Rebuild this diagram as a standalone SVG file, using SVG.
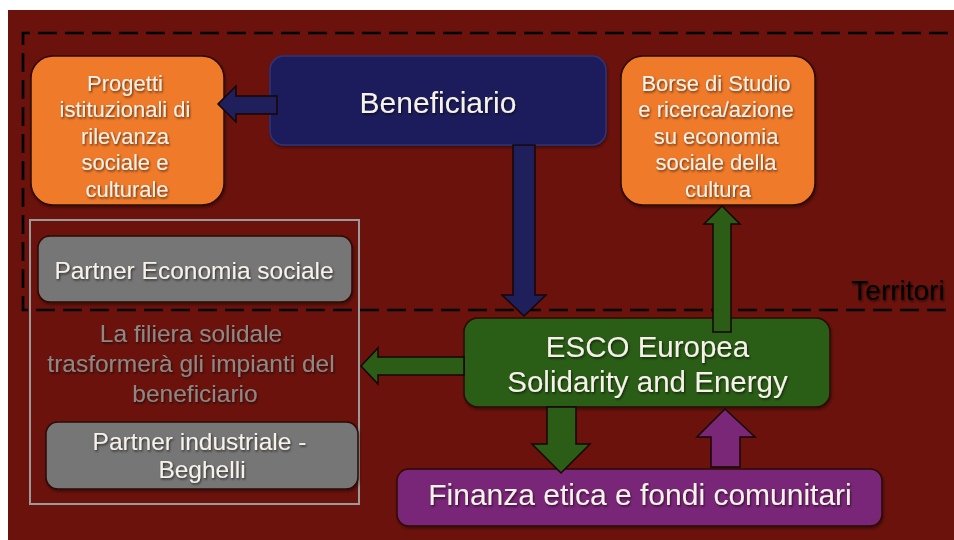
<svg xmlns="http://www.w3.org/2000/svg" width="954" height="540" viewBox="0 0 954 540">
  <defs>
    <filter id="ts" x="-10%" y="-30%" width="120%" height="160%">
      <feDropShadow dx="1" dy="1.5" stdDeviation="1" flood-color="#000" flood-opacity="0.6"/>
    </filter>
    <filter id="bs" x="-5%" y="-10%" width="110%" height="120%">
      <feDropShadow dx="1" dy="2" stdDeviation="1.5" flood-color="#000" flood-opacity="0.4"/>
    </filter>
  </defs>
  <style>
    text { font-family: "Liberation Sans", Arial, sans-serif; text-anchor: middle; }
    .lt { fill: #f6f1e9; filter: url(#ts); }
    .box { stroke: #2a0a06; stroke-width: 1.5; filter: url(#bs); }
    .orange { fill: #ef7a2a; }
    .gray { fill: #767676; }
    .arrow { stroke: #140606; stroke-width: 1.5; stroke-linejoin: miter; }
  </style>

  <rect x="0" y="0" width="954" height="540" fill="#ffffff"/>
  <rect x="8" y="10" width="946" height="530" fill="#6b120c"/>

  <g id="territori">
    <path d="M948 33 H23 V310 H948" fill="none" stroke="#000" stroke-width="2.7" stroke-dasharray="19 8"/>
    <text x="898" y="300" font-size="28" fill="#000" style="filter:url(#ts)">Territori</text>
  </g>

  <g id="filiera">
    <rect x="30" y="220" width="329" height="284" fill="none" stroke="#9a9a9a" stroke-width="2"/>
    <text x="191" y="342" font-size="24.5" fill="#8e8783" style="filter:url(#ts)">La filiera solidale</text>
    <text x="191" y="372" font-size="24.5" fill="#8e8783" style="filter:url(#ts)">trasformerà gli impianti del</text>
    <text x="195" y="402" font-size="24.5" fill="#8e8783" style="filter:url(#ts)">beneficiario</text>
  </g>

  <g id="progetti">
    <rect class="box orange" x="31" y="56" width="193" height="149" rx="22"/>
    <text class="lt" x="125" y="91" font-size="22">Progetti</text>
    <text class="lt" x="125" y="117" font-size="22">istituzionali di</text>
    <text class="lt" x="125" y="144" font-size="22">rilevanza</text>
    <text class="lt" x="125" y="170" font-size="22">sociale e</text>
    <text class="lt" x="127" y="197" font-size="22">culturale</text>
  </g>

  <g id="beneficiario">
    <rect x="270" y="56" width="336" height="89" rx="14" fill="#1f1f5b" stroke="#2e3378" stroke-width="1.5" style="filter:url(#bs)"/>
    <text class="lt" x="438" y="113" font-size="30">Beneficiario</text>
  </g>

  <g id="borse">
    <rect class="box orange" x="621" y="56" width="194" height="149" rx="22"/>
    <text class="lt" x="716" y="91" font-size="22">Borse di Studio</text>
    <text class="lt" x="716" y="117" font-size="22">e ricerca/azione</text>
    <text class="lt" x="716" y="144" font-size="22">su economia</text>
    <text class="lt" x="716" y="170" font-size="22">sociale della</text>
    <text class="lt" x="718" y="197" font-size="22">cultura</text>
  </g>

  <g id="partner-economia">
    <rect class="box gray" x="38" y="236" width="314" height="66" rx="12"/>
    <text class="lt" x="194" y="279" font-size="24.5">Partner Economia sociale</text>
  </g>

  <g id="partner-industriale">
    <rect class="box gray" x="46" y="422" width="312" height="67" rx="12"/>
    <text class="lt" x="199.5" y="450" font-size="24.5">Partner industriale -</text>
    <text class="lt" x="202" y="478" font-size="24.5">Beghelli</text>
  </g>

  <g id="esco">
    <rect class="box" x="464" y="318" width="366" height="89" rx="14" fill="#2b5d17"/>
    <text class="lt" x="647.5" y="357" font-size="29.5">ESCO Europea</text>
    <text class="lt" x="647.5" y="392" font-size="29.5">Solidarity and Energy</text>
  </g>

  <g id="finanza">
    <rect class="box" x="397" y="469" width="485" height="57" rx="12" fill="#7a2778"/>
    <text class="lt" x="640" y="505" font-size="30">Finanza etica e fondi comunitari</text>
  </g>

  <g id="connectors">
    <polygon class="arrow" fill="#1f1f5b" points="277,96 236,96 236,86 218,104 236,122 236,114 277,114"/>
    <polygon class="arrow" fill="#1f1f5b" points="513,145 535,145 535,295 546,295 524,316 502,295 513,295"/>
    <polygon class="arrow" fill="#2b5d17" points="713,332 713,224 704,224 722,206 740,224 731,224 731,332"/>
    <polygon class="arrow" fill="#2b5d17" points="464,357 378,357 378,348 361,366 378,384 378,375 464,375"/>
    <polygon class="arrow" fill="#2b5d17" points="547,407 576,407 576,444 590,444 561,473 532,444 547,444"/>
    <polygon class="arrow" fill="#7a2778" points="711,467 711,437 697,437 725,409 755,437 740,437 740,467"/>
  </g>
</svg>
